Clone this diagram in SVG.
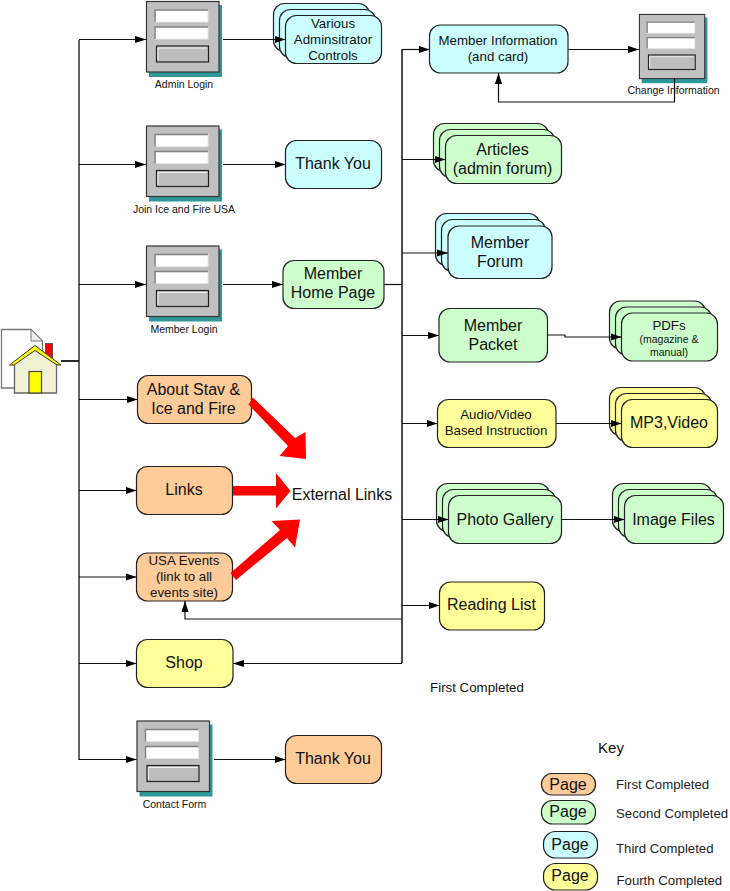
<svg xmlns="http://www.w3.org/2000/svg" xmlns:xlink="http://www.w3.org/1999/xlink" width="730" height="891" viewBox="0 0 730 891">
<style>
text{font-family:"Liberation Sans",Arial,sans-serif;fill:#111;text-anchor:middle}
.n rect{stroke:#222;stroke-width:1.2}
.o rect{fill:#FFCC99}.g rect{fill:#CCFFCC}.c rect{fill:#CCFFFF}.y rect{fill:#FFFF99}
.s16{font-size:16px}.s13{font-size:13.300px}.s10{font-size:10.500px}
.l{text-anchor:start;font-size:13.200px;fill:#222}
#connectors path{fill:none;stroke:#111;stroke-width:1.2}
#connectors path.a{marker-end:url(#arr)}
.big{fill:#FF0000;stroke:none}
</style>
<defs>
<marker id="arr" markerUnits="userSpaceOnUse" markerWidth="11" markerHeight="8" refX="11" refY="4" orient="auto"><path d="M0 .4L11 4L0 7.6Z" fill="#000"/></marker>
<g id="form">
<rect x="3" y="4" width="73" height="72" fill="#2F9797"/>
<rect x=".5" y=".5" width="72.5" height="70.5" fill="#C0C0C0" stroke="#333" stroke-width="1.2"/>
<rect x="9" y="9" width="53" height="12" fill="#fff" stroke="#E6E6E6" stroke-width="1"/>
<path d="M9 21V9H62" fill="none" stroke="#808080" stroke-width="1.5"/>
<rect x="9" y="26" width="53" height="12" fill="#fff" stroke="#E6E6E6" stroke-width="1"/>
<path d="M9 38V26H62" fill="none" stroke="#808080" stroke-width="1.5"/>
<rect x="10.5" y="45" width="52" height="16" fill="#BDBDBD" stroke="#222" stroke-width="1.2"/>
<path d="M12 59V47H61" fill="none" stroke="#F2F2F2" stroke-width="1"/>
</g>
</defs>

<g id="home">
<path d="M1.500 329.500H31L42.500 341V388H1.500Z" fill="#fff" stroke="#777" stroke-width="1.300"/>
<path d="M31 329.500V341H42.500Z" fill="#eee" stroke="#777"/>
<rect x="45.500" y="343.500" width="7" height="18" fill="#FF0000" stroke="#555"/>
<path d="M14.500 364L35 347L56.500 364V393H14.500Z" fill="#F2F2D5" stroke="#666" stroke-width="1.300"/>
<path d="M9.500 365L35 345.500L61 365H57L35 350.500L14 365Z" fill="#FFFF00" stroke="#333" stroke-width="1"/>
<rect x="29" y="371.500" width="12.500" height="21.500" fill="#FFFF00" stroke="#444" stroke-width="1.200"/>
</g>

<g id="admin-login"><use xlink:href="#form" x="146" y="1"/><text class="s10" x="184" y="88">Admin Login</text></g>
<g id="join"><use xlink:href="#form" x="146" y="125.500"/><text class="s10" x="184" y="213">Join Ice and Fire USA</text></g>
<g id="member-login"><use xlink:href="#form" x="146" y="245.500"/><text class="s10" x="184" y="333">Member Login</text></g>
<g id="contact-form"><use xlink:href="#form" x="136.500" y="720.500"/><text class="s10" x="174.500" y="808">Contact Form</text></g>
<g id="change-info"><use xlink:href="#form" transform="translate(639 14) scale(.9 .91)"/><text class="s10" x="673.500" y="94">Change Information</text></g>

<g id="admin-controls" class="n c">
<rect x="273.500" y="3.500" width="96" height="48" rx="11"/><rect x="279.500" y="9.500" width="96" height="48" rx="11"/><rect x="285.500" y="15.500" width="96" height="48" rx="11"/>
<text class="s13" x="333" y="27.500">Various</text><text class="s13" x="333" y="43.500">Adminsitrator</text><text class="s13" x="333" y="59.500">Controls</text>
</g>
<g id="thanks-1" class="n c"><rect x="285.500" y="140.500" width="96" height="48" rx="11"/><text class="s16" x="333" y="169">Thank You</text></g>
<g id="member-home" class="n g"><rect x="283" y="260.500" width="101" height="48" rx="11"/><text class="s16" x="333" y="279">Member</text><text class="s16" x="333" y="298">Home Page</text></g>
<g id="about" class="n o"><rect x="137.500" y="375.500" width="114" height="48" rx="11"/><text class="s16" x="193.500" y="394.500">About Stav &amp;</text><text class="s16" x="193.500" y="413.500">Ice and Fire</text></g>
<g id="links" class="n o"><rect x="136.500" y="466.500" width="96" height="48" rx="11"/><text class="s16" x="184" y="495">Links</text></g>
<g id="usa-events" class="n o"><rect x="136.500" y="553" width="96" height="48" rx="11"/><text class="s13" x="184" y="565">USA Events</text><text class="s13" x="184" y="581">(link to all</text><text class="s13" x="184" y="597">events site)</text></g>
<g id="shop" class="n y"><rect x="136.500" y="639.500" width="96.500" height="48" rx="11"/><text class="s16" x="184" y="668">Shop</text></g>
<g id="thanks-2" class="n o"><rect x="285.500" y="735.500" width="96" height="48" rx="11"/><text class="s16" x="333" y="764">Thank You</text></g>
<g id="external-links"><text class="s16" x="342" y="500">External Links</text></g>

<g id="member-info" class="n c"><rect x="429.500" y="25" width="138.500" height="48" rx="11"/><text class="s13" x="498" y="45">Member Information</text><text class="s13" x="498" y="61">(and card)</text></g>
<g id="articles" class="n g"><rect x="433.500" y="123.500" width="115" height="48" rx="11"/><rect x="439.500" y="129.500" width="115" height="48" rx="11"/><rect x="445.500" y="135.500" width="116" height="48" rx="11"/><text class="s16" x="502.500" y="154.500">Articles</text><text class="s16" x="502.500" y="173.500">(admin forum)</text></g>
<g id="member-forum" class="n c"><rect x="435.500" y="213.500" width="104" height="52" rx="11"/><rect x="441.500" y="219.500" width="104" height="52" rx="11"/><rect x="448" y="226" width="104" height="52.500" rx="11"/><text class="s16" x="500" y="247.500">Member</text><text class="s16" x="500" y="266.500">Forum</text></g>
<g id="member-packet" class="n g"><rect x="439" y="308.500" width="108.500" height="53.500" rx="11"/><text class="s16" x="493" y="330.500">Member</text><text class="s16" x="493" y="349.500">Packet</text></g>
<g id="pdfs" class="n g"><rect x="609.500" y="301" width="96" height="48" rx="11"/><rect x="615.500" y="307" width="96" height="48" rx="11"/><rect x="621.500" y="313" width="96" height="48" rx="11"/><text class="s13" x="669" y="330">PDFs</text><text class="s10" x="669" y="343">(magazine &amp;</text><text class="s10" x="669" y="356">manual)</text></g>
<g id="audio-video" class="n y"><rect x="437.500" y="399.500" width="118.500" height="48" rx="11"/><text class="s13" x="496" y="419">Audio/Video</text><text class="s13" x="496" y="435">Based Instruction</text></g>
<g id="mp3" class="n y"><rect x="609.500" y="387.500" width="96" height="48" rx="11"/><rect x="615.500" y="393.500" width="96" height="48" rx="11"/><rect x="621.500" y="399.500" width="96" height="48" rx="11"/><text class="s16" x="669" y="428">MP3,Video</text></g>
<g id="photo-gallery" class="n g"><rect x="436.500" y="483.500" width="113" height="48" rx="11"/><rect x="442.500" y="489.500" width="113" height="48" rx="11"/><rect x="448.500" y="495.500" width="113" height="48" rx="11"/><text class="s16" x="505" y="524.500">Photo Gallery</text></g>
<g id="image-files" class="n g"><rect x="612.500" y="483.500" width="99" height="48" rx="11"/><rect x="618.500" y="489.500" width="99" height="48" rx="11"/><rect x="624.500" y="495.500" width="99" height="48" rx="11"/><text class="s16" x="673.500" y="524.500">Image Files</text></g>
<g id="reading-list" class="n y"><rect x="439.500" y="582" width="105" height="48" rx="11"/><text class="s16" x="491.500" y="610">Reading List</text></g>

<g id="note"><text class="s13" x="477" y="692">First Completed</text></g>
<g id="key">
<text x="611" y="753" style="font-size:15px">Key</text>
<g class="n o"><rect x="541.500" y="773.500" width="54" height="21.500" rx="10.500"/><text class="s16" x="568" y="790">Page</text></g>
<g class="n g"><rect x="541.500" y="800.500" width="54" height="23.500" rx="11"/><text class="s16" x="568" y="817">Page</text></g>
<g class="n c"><rect x="543.500" y="831.500" width="54" height="26.500" rx="12"/><text class="s16" x="570" y="850">Page</text></g>
<g class="n y"><rect x="543.500" y="863.500" width="54" height="26.500" rx="12"/><text class="s16" x="570" y="881">Page</text></g>
<text class="l" x="616" y="788.500">First Completed</text>
<text class="l" x="616" y="817.500">Second Completed</text>
<text class="l" x="616" y="853">Third Completed</text>
<text class="l" x="616.500" y="884.500">Fourth Completed</text>
</g>

<g id="connectors">
<path d="M61 361H79" style="stroke-width:1.800"/>
<path d="M79 40V760" style="stroke-width:1.300"/>
<path class="a" d="M79 39.500H146"/>
<path class="a" d="M79 164.500H146"/>
<path class="a" d="M79 284.500H146"/>
<path class="a" d="M79 399.500H137.500"/>
<path class="a" d="M79 490.500H136.500"/>
<path class="a" d="M79 577H136.500"/>
<path class="a" d="M79 663.500H136.500"/>
<path class="a" d="M79 759.500H136.500"/>
<path class="a" d="M223 39.500H285.500"/>
<path class="a" d="M223 164.500H285.500"/>
<path class="a" d="M223 284.500H283"/>
<path class="a" d="M214 759.500H285.500"/>
<path d="M384 284.500H402" />
<path d="M402 49V663" style="stroke-width:1.500"/>
<path class="a" d="M402 49.500H429.500"/>
<path class="a" d="M402 159.500H445.500"/>
<path class="a" d="M402 253H448"/>
<path class="a" d="M402 335.500H439"/>
<path class="a" d="M402 423.500H437.500"/>
<path class="a" d="M402 519.500H448.500"/>
<path class="a" d="M402 605.500H439.500"/>
<path class="a" d="M402 663.500H233"/>
<path class="a" d="M402 619H185V601"/>
<path class="a" d="M568 49.500H639"/>
<path class="a" d="M674.500 78V102H498.500V73"/>
<path class="a" d="M547.500 335H565V337H621.500"/>
<path class="a" d="M556 423.500H621.500"/>
<path class="a" d="M561.500 519.500H624.500"/>
<polygon class="big" points="253,397.500 295,438 305.500,432 306,459 279.500,456 288,446 248.500,404.500"/>
<polygon class="big" points="233,486 276,486 276,473 290.500,491 276,508.500 276,495.500 233,495.500"/>
<polygon class="big" points="230.500,573 280,530 271.500,521 300,519.500 295,547.500 287,538 236,580"/>
</g>
</svg>
